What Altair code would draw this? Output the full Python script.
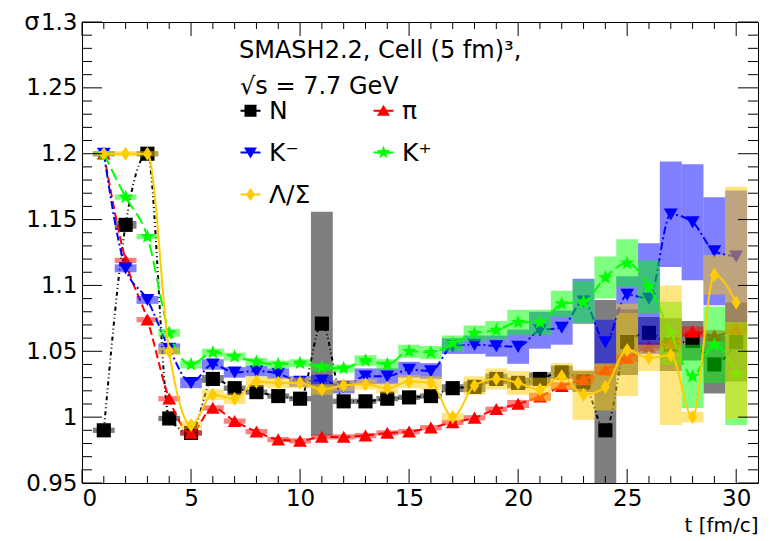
import math
import altair as alt
import pandas as pd

# ---------------- data ----------------
t_values = list(range(1, 31))
series_names = ["N", "π", "K⁻", "K⁺", "Λ/Σ"]

n_val = [0.990, 1.146, 1.200, 0.999, 0.988, 1.029, 1.022, 1.019, 1.016, 1.014,
         1.071, 1.012, 1.012, 1.014, 1.015, 1.016, 1.022, 1.023, 1.029, 1.026,
         1.029, 1.034, 1.027, 0.990, 1.057, 1.064, 1.055, 1.058, 1.040, 1.057]
n_err = [0.002, 0.003, 0.002, 0.002, 0.002, 0.003, 0.002, 0.002, 0.002, 0.002,
         0.085, 0.002, 0.002, 0.002, 0.002, 0.002, 0.003, 0.004, 0.004, 0.004,
         0.005, 0.005, 0.008, 0.099, 0.025, 0.012, 0.020, 0.015, 0.022, 0.030]

pi_val = [1.200, 1.119, 1.074, 1.014, 0.988, 1.007, 0.997, 0.989, 0.983, 0.982,
          0.985, 0.985, 0.986, 0.988, 0.989, 0.992, 0.996, 0.9995, 1.006, 1.010,
          1.0155, 1.0236, 1.0287, 1.036, 1.045, 1.0535, 1.056, 1.065, 1.062, 1.067]
pi_err = [0.001, 0.002, 0.002, 0.002, 0.002, 0.002, 0.002, 0.002, 0.002, 0.002,
          0.002, 0.002, 0.002, 0.002, 0.002, 0.002, 0.002, 0.002, 0.002, 0.003,
          0.003, 0.003, 0.003, 0.003, 0.003, 0.003, 0.003, 0.004, 0.004, 0.004]

km_val = [1.200, 1.113, 1.089, 1.052, 1.026, 1.040, 1.034, 1.035, 1.033, 1.027,
          1.028, 1.023, 1.031, 1.031, 1.036, 1.035, 1.054, 1.055, 1.054, 1.0535,
          1.066, 1.068, 1.088, 1.057, 1.093, 1.090, 1.154, 1.148, 1.126, 1.122]
km_err = [0.002, 0.003, 0.003, 0.004, 0.004, 0.004, 0.004, 0.004, 0.004, 0.004,
          0.004, 0.005, 0.006, 0.006, 0.006, 0.006, 0.006, 0.007, 0.008, 0.013,
          0.014, 0.013, 0.017, 0.017, 0.014, 0.042, 0.040, 0.044, 0.041, 0.050]

kp_val = [1.200, 1.167, 1.137, 1.064, 1.040, 1.049, 1.046, 1.042, 1.040, 1.041,
          1.038, 1.037, 1.043, 1.040, 1.050, 1.049, 1.056, 1.0636, 1.066, 1.072,
          1.072, 1.086, 1.0876, 1.106, 1.117, 1.099, 1.0636, 1.031, 1.055, 1.033]
kp_err = [0.002, 0.002, 0.002, 0.003, 0.003, 0.003, 0.003, 0.003, 0.003, 0.003,
          0.003, 0.003, 0.004, 0.004, 0.005, 0.005, 0.006, 0.006, 0.007, 0.0095,
          0.0095, 0.010, 0.016, 0.016, 0.018, 0.020, 0.024, 0.024, 0.029, 0.039]

ls_val = [1.200, 1.200, 1.200, 1.050, 0.994, 1.017, 1.014, 1.027, 1.026, 1.026,
          1.021, 1.024, 1.025, 1.022, 1.027, 1.026, 1.000, 1.024, 1.029, 1.026,
          1.021, 1.031, 1.017, 1.023, 1.051, 1.045, 1.047, 1.000, 1.108, 1.087]
ls_err = [0.002, 0.002, 0.002, 0.003, 0.003, 0.004, 0.004, 0.004, 0.004, 0.004,
          0.004, 0.004, 0.004, 0.004, 0.005, 0.005, 0.003, 0.007, 0.008, 0.009,
          0.009, 0.010, 0.019, 0.018, 0.035, 0.010, 0.053, 0.004, 0.015, 0.088]

values = [n_val, pi_val, km_val, kp_val, ls_val]
errors = [n_err, pi_err, km_err, kp_err, ls_err]

x_major_ticks = [0, 5, 10, 15, 20, 25, 30]
x_minor_ticks = [v for v in range(1, 31) if v % 5 != 0]
y_major_ticks = [0.95, 1.0, 1.05, 1.1, 1.15, 1.2, 1.25, 1.3]
y_minor_ticks = [round(0.95 + 0.01 * i, 2) for i in range(1, 35) if i % 5 != 0]

# ---------------- style ----------------
FONT = "DejaVu Sans"
W, H = 676, 461
colors = ["#000000", "#ff0000", "#0000ff", "#00ff00", "#ffcc00"]
dashes = [[4, 3, 1, 3, 1, 3], [8, 4], [8, 3, 2, 3], [12, 5], [1, 0]]


def star_path(ro, ri, extra=""):
    pts = []
    for k in range(10):
        a = -math.pi / 2 + k * math.pi / 5
        r = ro if k % 2 == 0 else ri
        pts.append(f"{r * math.cos(a):.3f},{r * math.sin(a):.3f}")
    return extra + "M" + "L".join(pts) + "Z"


marker_paths = [
    "M-1,-1H1V1H-1Z",
    "M0,-0.9L1,0.85L-1,0.85Z",
    "M0,0.9L-1,-0.85L1,-0.85Z",
    star_path(1.0, 0.42),
    "M0,-1L0.65,0L0,1L-0.65,0Z",
]
marker_sizes = [200, 190, 190, 230, 200]

LINE = "M-1,-0.1H1V0.1H-1Z "
legend_paths = [
    LINE + "M-0.6,-0.6H0.6V0.6H-0.6Z",
    LINE + "M0,-0.6L0.65,0.5L-0.65,0.5Z",
    LINE + "M0,0.6L-0.65,-0.5L0.65,-0.5Z",
    star_path(0.7, 0.3, LINE),
    LINE + "M0,-0.65L0.45,0L0,0.65L-0.45,0Z",
]

x_scale = alt.Scale(domain=[0, 31], nice=False, zero=False)
y_scale = alt.Scale(domain=[0.95, 1.3], nice=False, zero=False)

x_axis = alt.Axis(values=x_major_ticks, title="t [fm/c]", ticks=False, domain=False,
                  grid=False, labelFont=FONT, labelFontSize=23, labelColor="black",
                  labelPadding=4, titleFont=FONT, titleFontSize=20,
                  titleFontWeight="normal", titleColor="black", titleAlign="right",
                  titleX=W, titleY=48, titleBaseline="alphabetic")
y_axis = alt.Axis(values=y_major_ticks, format="~g", title="σ", ticks=False,
                  domain=False, grid=False, labelFont=FONT, labelFontSize=23,
                  labelColor="black", labelPadding=5, titleFont=FONT,
                  titleFontSize=24, titleFontWeight="normal", titleColor="black",
                  titleAngle=0, titleAlign="right", titleX=-43, titleY=7,
                  titleBaseline="alphabetic")


def X(field):
    return alt.X(f"{field}:Q", scale=x_scale, axis=x_axis)


def Y(field):
    return alt.Y(f"{field}:Q", scale=y_scale, axis=y_axis)


layers = []
for i, name in enumerate(series_names):
    df = pd.DataFrame({"t": t_values, "val": values[i], "err": errors[i]})
    df["lo"] = df["val"] - df["err"]
    df["hi"] = df["val"] + df["err"]
    df["t0"] = df["t"] - 0.5
    df["t1"] = df["t"] + 0.5
    base = alt.Chart(df)
    layers.append(base.mark_rect(color=colors[i], opacity=0.5, clip=True).encode(
        x=X("t0"), x2="t1", y=Y("lo"), y2="hi"))
    layers.append(base.mark_line(color=colors[i], strokeWidth=2, strokeDash=dashes[i],
                                 interpolate="monotone", clip=True).encode(
        x=X("t"), y=Y("val")))
    layers.append(base.mark_point(filled=True, opacity=1, color=colors[i],
                                  shape=marker_paths[i], size=marker_sizes[i],
                                  strokeWidth=0, clip=True).encode(
        x=X("t"), y=Y("val")))

# legend (drawn by the library's legend)
leg_df = pd.DataFrame({"series": series_names, "t": [1] * 5,
                       "val": [values[i][0] for i in range(5)]})
leg_kw = dict(orient="none", legendX=156, legendY=76, columns=2, direction="horizontal",
              columnPadding=60, rowPadding=16, symbolSize=400, labelFontSize=25,
              labelFont=FONT, labelColor="black", labelOffset=6, title=None,
              symbolOpacity=1, symbolStrokeWidth=0, padding=0)
layers.append(alt.Chart(leg_df).mark_point(filled=True, opacity=0).encode(
    x=X("t"), y=Y("val"),
    shape=alt.Shape("series:N", scale=alt.Scale(domain=series_names, range=legend_paths),
                    legend=alt.Legend(**leg_kw)),
    color=alt.Color("series:N", scale=alt.Scale(domain=series_names, range=colors),
                    legend=alt.Legend(**leg_kw)),
))

# annotation text
layers.append(alt.Chart(pd.DataFrame({"s": ["SMASH2.2, Cell (5 fm)³,"]})).mark_text(
    align="left", baseline="alphabetic", font=FONT, fontSize=24, color="black").encode(
    x=alt.value(157), y=alt.value(36), text="s:N"))
layers.append(alt.Chart(pd.DataFrame({"s": ["√s = 7.7 GeV"]})).mark_text(
    align="left", baseline="alphabetic", font=FONT, fontSize=24, color="black").encode(
    x=alt.value(158), y=alt.value(72), text="s:N"))

# inside ticks on all four sides
def xticks(vals, length):
    d = alt.Chart(pd.DataFrame({"v": vals}))
    return [d.mark_rule(color="black", strokeWidth=1).encode(
                x=X("v"), y=alt.value(H), y2=alt.value(H - length)),
            d.mark_rule(color="black", strokeWidth=1).encode(
                x=X("v"), y=alt.value(0), y2=alt.value(length))]


def yticks(vals, length):
    d = alt.Chart(pd.DataFrame({"v": vals}))
    return [d.mark_rule(color="black", strokeWidth=1).encode(
                y=Y("v"), x=alt.value(0), x2=alt.value(length)),
            d.mark_rule(color="black", strokeWidth=1).encode(
                y=Y("v"), x=alt.value(W), x2=alt.value(W - length))]


layers += xticks(x_major_ticks, 14) + xticks(x_minor_ticks, 7)
layers += yticks(y_major_ticks, 20) + yticks(y_minor_ticks, 10)

chart = alt.layer(*layers).properties(
    width=W, height=H,
    padding={"left": 74, "top": 14, "right": 7, "bottom": 56},
    autosize=alt.AutoSizeParams(type="none"),
    background="white",
).configure_view(stroke="black", strokeWidth=1)

chart.save("out.html", embed_options={"renderer": "svg", "actions": False})
